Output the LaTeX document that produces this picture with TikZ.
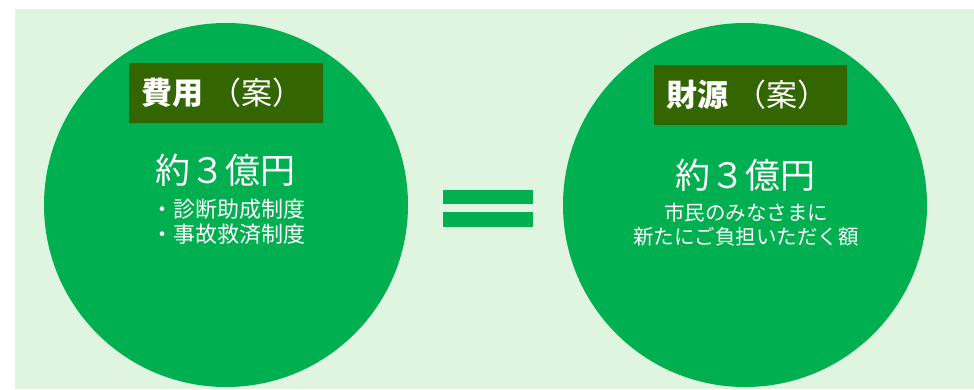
\documentclass[tikz,border=0pt]{standalone}
\usepackage{fontspec}
\setmainfont{Noto Sans CJK JP}
\definecolor{bgc}{HTML}{DFF5DF}
\definecolor{circ}{HTML}{00AF50}
\definecolor{boxc}{HTML}{336600}
\begin{document}
\begin{tikzpicture}[x=1pt,y=-1pt,
  bigcirc/.style={circle,fill=circ,draw=none,minimum size=364pt,inner sep=0pt},
  titlebox/.style={fill=boxc,draw=none,rounded corners=1pt,inner sep=0pt},
  txt/.style={text=white,inner sep=0pt,align=center}]
\useasboundingbox (0,0) rectangle (974,389);
\fill[white] (0,0) rectangle (974,389);
\fill[bgc] (15,9) rectangle (974,389);
% circles
\node[bigcirc] (cl) at (226,205) {};
\node[bigcirc] (cr) at (745,205) {};
% title boxes
\node[titlebox,minimum width=194pt,minimum height=60pt] (tl) at (226,93) {};
\node[titlebox,minimum width=193pt,minimum height=60pt] (tr) at (750.5,95) {};
\node[txt,font=\fontsize{31}{34}\selectfont] (tlt) at (222,93) {\textbf{費用}\hspace{7pt}（案）};
\node[txt,font=\fontsize{31}{34}\selectfont] (trt) at (747,95) {\textbf{財源}\hspace{7pt}（案）};
% amounts
\node[txt,font=\fontsize{35}{38}\selectfont] (al) at (225,170) {約３億円};
\node[txt,font=\fontsize{35}{38}\selectfont] (ar) at (745,175) {約３億円};
% details
\node[txt,font=\fontsize{22}{25}\selectfont,align=left] (dl) at (228,222) {・診断助成制度\\・事故救済制度};
\node[txt,font=\fontsize{20.5}{24}\selectfont] (dr) at (746,225) {市民のみなさまに\\新たにご負担いただく額};
% equals sign
\fill[circ] (443,190) rectangle (533,204);
\fill[circ] (443,212) rectangle (533,227);
\end{tikzpicture}
\end{document}
